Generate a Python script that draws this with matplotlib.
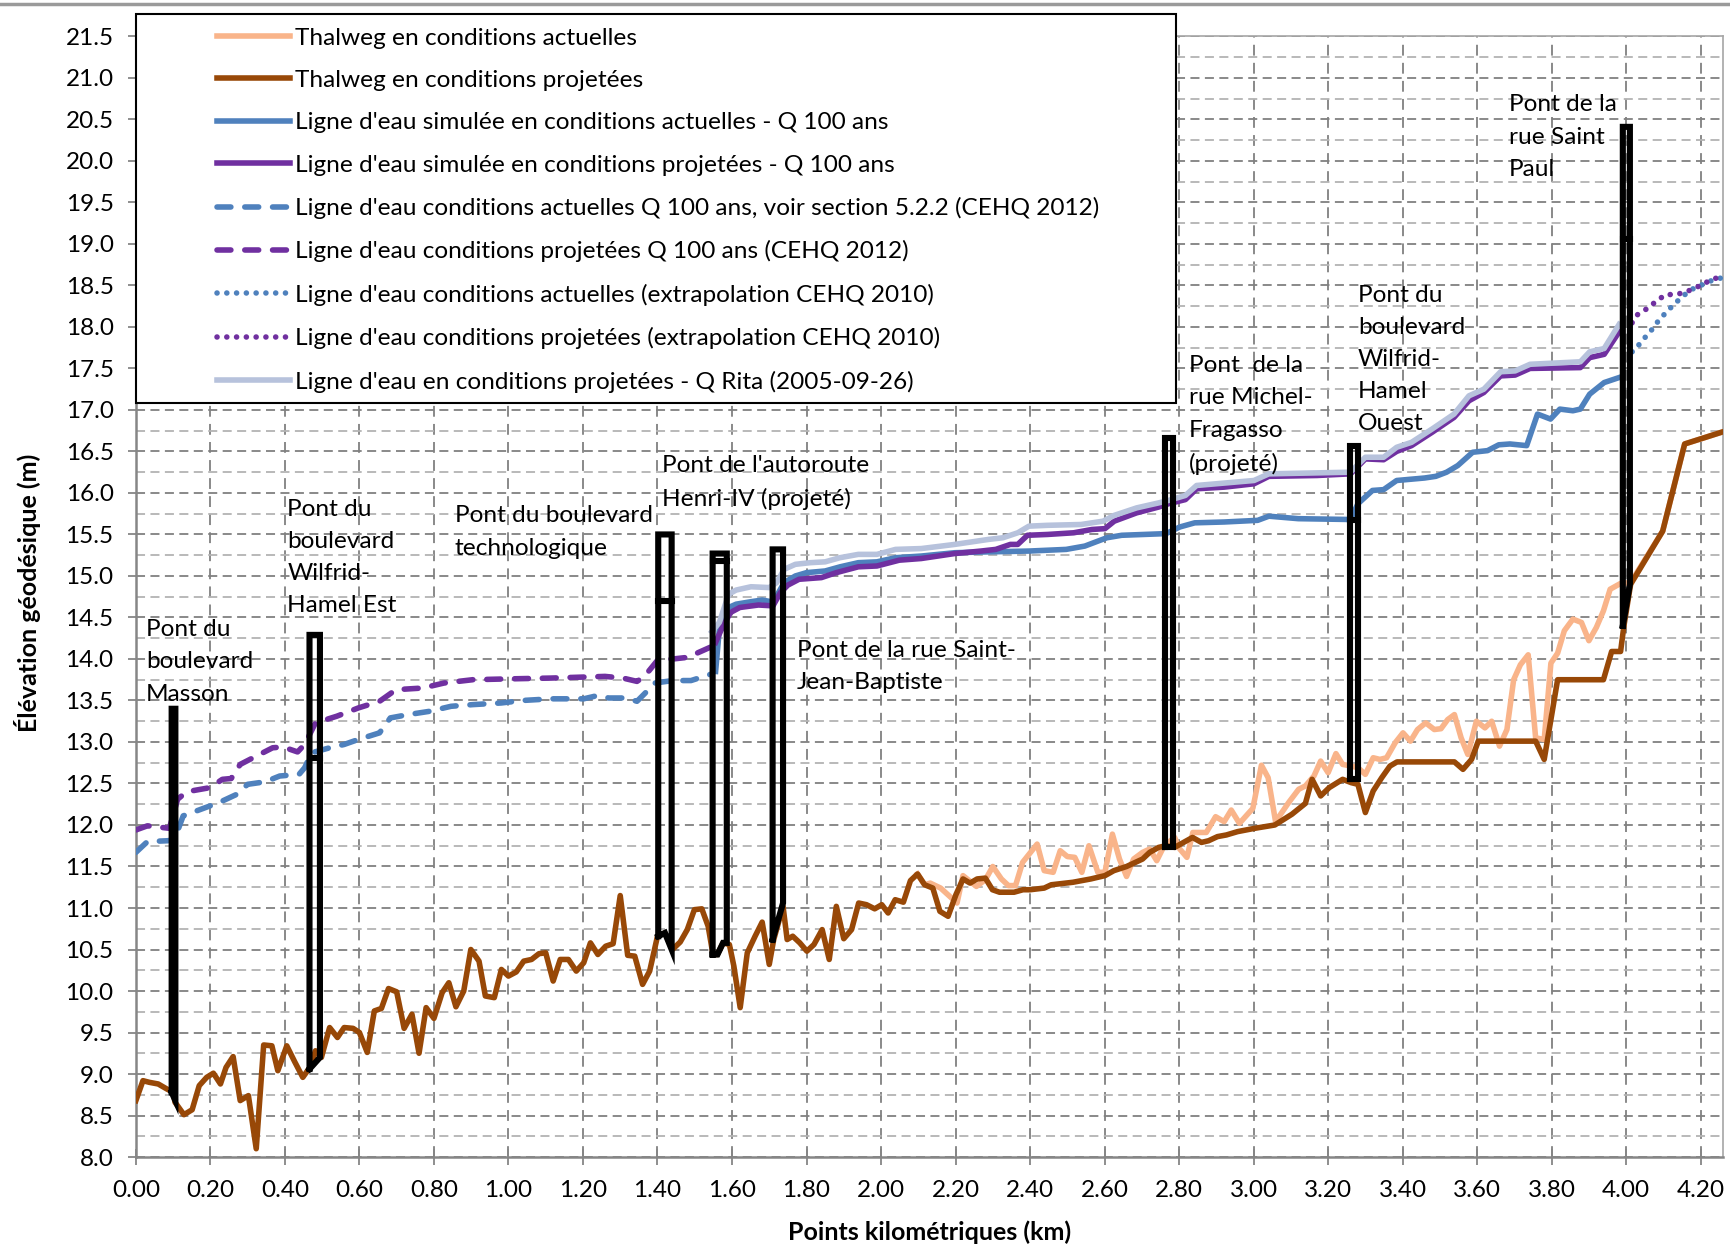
import matplotlib
matplotlib.use('Agg')
import matplotlib.pyplot as plt
from matplotlib.ticker import MultipleLocator, FormatStrFormatter
from matplotlib.lines import Line2D
from matplotlib.patches import Rectangle

plt.rcParams['font.family'] = ['Lato', 'DejaVu Sans']

# --- données (km, m) ---
thalweg_proj_km = [0.000, 0.019, 0.036, 0.060, 0.083, 0.100, 0.105, 0.129, 0.151, 0.170, 0.190, 0.208,
                   0.227, 0.242, 0.261, 0.280, 0.302, 0.323, 0.343, 0.365, 0.381, 0.405, 0.426, 0.448,
                   0.467, 0.482, 0.498, 0.520, 0.541, 0.559, 0.583, 0.600, 0.621, 0.640, 0.659, 0.678,
                   0.700, 0.720, 0.741, 0.760, 0.779, 0.800, 0.822, 0.840, 0.859, 0.880, 0.899, 0.921,
                   0.938, 0.962, 0.981, 1.000, 1.021, 1.041, 1.062, 1.082, 1.100, 1.120, 1.139, 1.161,
                   1.182, 1.202, 1.220, 1.240, 1.261, 1.281, 1.300, 1.320, 1.339, 1.360, 1.379, 1.400,
                   1.420, 1.440, 1.461, 1.480, 1.499, 1.519, 1.536, 1.549, 1.561, 1.576, 1.593, 1.605,
                   1.622, 1.641, 1.662, 1.681, 1.700, 1.712, 1.737, 1.748, 1.763, 1.782, 1.801, 1.820,
                   1.842, 1.861, 1.880, 1.900, 1.921, 1.940, 1.961, 1.983, 2.002, 2.019, 2.038, 2.060,
                   2.079, 2.098, 2.117, 2.139, 2.158, 2.180, 2.201, 2.220, 2.239, 2.258, 2.280, 2.299,
                   2.318, 2.357, 2.381, 2.400, 2.438, 2.457, 2.515, 2.563, 2.601, 2.625, 2.659, 2.678,
                   2.702, 2.721, 2.745, 2.764, 2.788, 2.812, 2.836, 2.860, 2.879, 2.903, 2.927, 2.957,
                   3.003, 3.057, 3.103, 3.139, 3.157, 3.180, 3.203, 3.239, 3.262, 3.280, 3.300, 3.321,
                   3.344, 3.366, 3.385, 3.539, 3.562, 3.585, 3.603, 3.757, 3.780, 3.798, 3.816, 3.939,
                   3.961, 3.985, 3.994, 4.012, 4.098, 4.157, 4.262]
thalweg_proj_z = [8.68, 8.92, 8.90, 8.88, 8.82, 8.78, 8.66, 8.51, 8.57, 8.86, 8.96, 9.01,
                  8.88, 9.08, 9.21, 8.68, 8.74, 8.10, 9.35, 9.34, 9.04, 9.34, 9.15, 8.96,
                  9.08, 9.28, 9.20, 9.56, 9.44, 9.56, 9.55, 9.50, 9.26, 9.76, 9.79, 10.03,
                  9.99, 9.55, 9.72, 9.25, 9.80, 9.67, 9.98, 10.10, 9.81, 10.00, 10.50, 10.36,
                  9.94, 9.92, 10.26, 10.18, 10.23, 10.36, 10.38, 10.45, 10.46, 10.12, 10.38, 10.38,
                  10.24, 10.34, 10.58, 10.44, 10.54, 10.57, 11.15, 10.43, 10.42, 10.08, 10.24, 10.66,
                  10.70, 10.50, 10.59, 10.74, 10.98, 10.99, 10.78, 10.44, 10.44, 10.58, 10.56, 10.30,
                  9.80, 10.46, 10.66, 10.83, 10.32, 10.62, 11.02, 10.62, 10.66, 10.58, 10.48, 10.56,
                  10.74, 10.38, 11.02, 10.63, 10.74, 11.06, 11.04, 10.99, 11.04, 10.94, 11.10, 11.07,
                  11.33, 11.41, 11.28, 11.24, 10.96, 10.90, 11.16, 11.35, 11.30, 11.35, 11.36, 11.22,
                  11.19, 11.19, 11.22, 11.22, 11.24, 11.28, 11.31, 11.35, 11.39, 11.45, 11.50, 11.54,
                  11.59, 11.67, 11.73, 11.75, 11.73, 11.79, 11.85, 11.79, 11.81, 11.86, 11.88, 11.92,
                  11.96, 12.00, 12.13, 12.26, 12.55, 12.35, 12.45, 12.55, 12.51, 12.49, 12.15, 12.41,
                  12.57, 12.71, 12.76, 12.76, 12.67, 12.79, 13.01, 13.01, 12.79, 13.27, 13.75, 13.75,
                  14.09, 14.09, 14.40, 14.90, 15.54, 16.59, 16.74]

thalweg_act_km = [2.098, 2.117, 2.132, 2.160, 2.204, 2.220, 2.256, 2.280, 2.300, 2.323, 2.342, 2.361,
                  2.380, 2.419, 2.438, 2.462, 2.481, 2.500, 2.520, 2.539, 2.558, 2.582, 2.601, 2.621,
                  2.640, 2.659, 2.678, 2.702, 2.721, 2.740, 2.760, 2.788, 2.802, 2.821, 2.837, 2.873,
                  2.898, 2.921, 2.940, 2.962, 2.998, 3.021, 3.039, 3.059, 3.094, 3.121, 3.139, 3.162,
                  3.180, 3.200, 3.221, 3.239, 3.262, 3.280, 3.300, 3.321, 3.339, 3.357, 3.380, 3.401,
                  3.421, 3.440, 3.462, 3.485, 3.503, 3.521, 3.539, 3.557, 3.575, 3.598, 3.621, 3.639,
                  3.660, 3.680, 3.698, 3.716, 3.737, 3.757, 3.780, 3.798, 3.816, 3.834, 3.857, 3.880,
                  3.900, 3.920, 3.939, 3.957, 3.985, 4.012, 4.098, 4.157, 4.262]
thalweg_act_z = [11.41, 11.28, 11.30, 11.24, 11.06, 11.39, 11.26, 11.34, 11.50, 11.35, 11.27, 11.27,
                 11.55, 11.77, 11.45, 11.43, 11.69, 11.62, 11.61, 11.43, 11.75, 11.43, 11.43, 11.89,
                 11.59, 11.38, 11.59, 11.67, 11.71, 11.57, 11.75, 11.85, 11.71, 11.61, 11.91, 11.91,
                 12.10, 12.04, 12.18, 12.02, 12.20, 12.72, 12.57, 12.04, 12.27, 12.43, 12.47, 12.59,
                 12.77, 12.63, 12.86, 12.73, 12.71, 12.69, 12.61, 12.81, 12.79, 12.81, 12.99, 13.11,
                 13.01, 13.15, 13.23, 13.15, 13.16, 13.27, 13.33, 13.05, 12.85, 13.25, 13.17, 13.25,
                 12.95, 13.15, 13.75, 13.93, 14.05, 13.05, 13.03, 13.95, 14.07, 14.34, 14.48, 14.44,
                 14.22, 14.38, 14.58, 14.84, 14.91, 14.92, 15.54, 16.59, 16.74]

# ligne d'eau simulée Q 100 ans
eau_act_km = [1.556, 1.566, 1.591, 1.611, 1.651, 1.681, 1.705, 1.720, 1.740, 1.770, 1.800, 1.850,
              1.890, 1.939, 1.989, 2.039, 2.108, 2.198, 2.288, 2.397, 2.497, 2.547, 2.606, 2.646,
              2.765, 2.802, 2.842, 2.921, 3.011, 3.041, 3.120, 3.260, 3.280, 3.319, 3.349, 3.384,
              3.459, 3.489, 3.518, 3.548, 3.588, 3.628, 3.658, 3.688, 3.733, 3.762, 3.797, 3.822,
              3.857, 3.877, 3.902, 3.941, 3.981]
eau_act_z = [13.85, 14.36, 14.62, 14.66, 14.69, 14.71, 14.69, 14.76, 14.92, 15.00, 15.04, 15.06,
             15.11, 15.16, 15.17, 15.22, 15.24, 15.28, 15.29, 15.30, 15.32, 15.36, 15.46, 15.49,
             15.51, 15.59, 15.64, 15.65, 15.67, 15.72, 15.69, 15.68, 15.87, 16.03, 16.04, 16.15,
             16.18, 16.20, 16.25, 16.33, 16.49, 16.51, 16.58, 16.59, 16.57, 16.95, 16.89, 17.01,
             16.99, 17.01, 17.19, 17.33, 17.39]

eau_proj_km = [1.556, 1.576, 1.596, 1.621, 1.671, 1.710, 1.730, 1.750, 1.780, 1.840, 1.880, 1.939,
               1.989, 2.049, 2.108, 2.198, 2.268, 2.308, 2.347, 2.367, 2.393, 2.447, 2.517, 2.566,
               2.601, 2.626, 2.686, 2.745, 2.772, 2.817, 2.847, 2.921, 3.001, 3.041, 3.170, 3.260,
               3.300, 3.349, 3.384, 3.424, 3.479, 3.538, 3.578, 3.618, 3.663, 3.702, 3.742, 3.877,
               3.902, 3.941, 3.981]
eau_proj_z = [14.20, 14.40, 14.56, 14.62, 14.65, 14.64, 14.80, 14.89, 14.96, 14.98, 15.04, 15.11,
              15.12, 15.19, 15.21, 15.27, 15.30, 15.32, 15.38, 15.38, 15.49, 15.50, 15.52, 15.56,
              15.57, 15.66, 15.76, 15.83, 15.87, 15.92, 16.05, 16.07, 16.11, 16.20, 16.21, 16.23,
              16.41, 16.40, 16.50, 16.57, 16.73, 16.91, 17.11, 17.21, 17.41, 17.42, 17.50, 17.51,
              17.63, 17.67, 17.94]

# CEHQ 2012
cehq_act_km = [0.000, 0.031, 0.084, 0.103, 0.127, 0.175, 0.223, 0.271, 0.300, 0.347, 0.386, 0.438,
               0.453, 0.472, 0.520, 0.559, 0.597, 0.654, 0.683, 0.731, 0.789, 0.846, 0.904, 0.981,
               1.038, 1.115, 1.202, 1.240, 1.269, 1.317, 1.345, 1.365, 1.393, 1.441, 1.490, 1.546]
cehq_act_z = [11.67, 11.80, 11.81, 11.82, 12.11, 12.19, 12.27, 12.37, 12.49, 12.52, 12.59, 12.61,
              12.69, 12.87, 12.93, 12.97, 13.03, 13.11, 13.29, 13.33, 13.37, 13.43, 13.45, 13.47,
              13.50, 13.52, 13.52, 13.56, 13.53, 13.53, 13.49, 13.58, 13.71, 13.74, 13.74, 13.82]

cehq_proj_km = [0.000, 0.031, 0.090, 0.112, 0.136, 0.199, 0.232, 0.256, 0.280, 0.319, 0.367, 0.395,
                0.434, 0.453, 0.482, 0.539, 0.597, 0.654, 0.698, 0.770, 0.827, 0.904, 1.000, 1.115,
                1.259, 1.307, 1.345, 1.365, 1.403, 1.442, 1.482, 1.511, 1.556]
cehq_proj_z = [11.94, 11.99, 11.96, 12.31, 12.40, 12.45, 12.55, 12.56, 12.73, 12.82, 12.93, 12.94,
               12.88, 12.97, 13.23, 13.31, 13.41, 13.49, 13.63, 13.65, 13.71, 13.75, 13.76, 13.77,
               13.79, 13.77, 13.73, 13.79, 14.00, 14.00, 14.02, 14.08, 14.17]

# extrapolation CEHQ 2010
extra_act_km = [4.016, 4.026, 4.046, 4.066, 4.086, 4.106, 4.128, 4.152, 4.175, 4.200, 4.230, 4.255]
extra_act_z = [17.70, 17.74, 17.85, 17.95, 18.07, 18.17, 18.27, 18.37, 18.45, 18.50, 18.56, 18.59]
extra_proj_km = [4.016, 4.031, 4.056, 4.081, 4.106, 4.135, 4.165, 4.195, 4.225, 4.255]
extra_proj_z = [18.05, 18.15, 18.22, 18.31, 18.39, 18.39, 18.43, 18.49, 18.56, 18.61]

# Q Rita (2005-09-26)
rita_km = [1.546, 1.566, 1.591, 1.611, 1.651, 1.700, 1.720, 1.740, 1.770, 1.810, 1.850, 1.890,
           1.939, 1.989, 2.039, 2.108, 2.198, 2.288, 2.327, 2.367, 2.397, 2.447, 2.537, 2.596,
           2.626, 2.686, 2.745, 2.772, 2.817, 2.847, 3.001, 3.041, 3.260, 3.300, 3.349, 3.384,
           3.424, 3.479, 3.538, 3.578, 3.618, 3.663, 3.702, 3.742, 3.877, 3.902, 3.941, 3.981]
rita_z = [14.33, 14.44, 14.78, 14.83, 14.87, 14.86, 14.92, 15.08, 15.14, 15.16, 15.17, 15.22,
          15.26, 15.26, 15.32, 15.33, 15.38, 15.44, 15.46, 15.52, 15.60, 15.61, 15.62, 15.66,
          15.73, 15.82, 15.88, 15.91, 15.97, 16.09, 16.15, 16.23, 16.25, 16.43, 16.43, 16.55,
          16.61, 16.77, 16.95, 17.17, 17.25, 17.46, 17.47, 17.55, 17.58, 17.70, 17.74, 18.03]

# ponts : contour (km, m) et niveau du tablier
pont_noms = ["Pont du\nboulevard\nMasson",
             "Pont du\nboulevard\nWilfrid-\nHamel Est",
             "Pont du boulevard\ntechnologique",
             "Pont de l'autoroute\nHenri-IV (projeté)",
             "Pont de la rue Saint-\nJean-Baptiste",
             "Pont  de la\nrue Michel-\nFragasso\n(projeté)",
             "Pont du\nboulevard\nWilfrid-\nHamel\nOuest",
             "Pont de la\nrue Saint\nPaul"]
pont_texte_km = [0.027, 0.406, 0.856, 1.413, 1.775, 2.827, 3.280, 3.686]
pont_texte_z = [14.48, 15.93, 15.85, 16.46, 14.23, 17.66, 18.51, 20.80]
pont_km = [[0.096, 0.096, 0.106, 0.106, 0.096],
           [0.466, 0.466, 0.494, 0.494, 0.466],
           [1.402, 1.402, 1.438, 1.438, 1.420, 1.402],
           [1.548, 1.548, 1.586, 1.586, 1.576, 1.561, 1.548],
           [1.709, 1.709, 1.737, 1.737, 1.709],
           [2.763, 2.763, 2.785, 2.785, 2.763],
           [3.260, 3.260, 3.280, 3.280, 3.260],
           [3.991, 3.991, 4.010, 4.010, 3.991]]
pont_z = [[8.78, 13.40, 13.40, 8.68, 8.78],
          [9.06, 14.29, 14.29, 9.20, 9.06],
          [10.66, 15.50, 15.50, 10.50, 10.70, 10.66],
          [10.44, 15.27, 15.27, 10.58, 10.58, 10.44, 10.44],
          [10.62, 15.32, 15.32, 11.06, 10.62],
          [11.73, 16.66, 16.66, 11.73, 11.73],
          [12.55, 16.56, 16.56, 12.55, 12.55],
          [14.40, 20.41, 20.41, 14.90, 14.40]]
pont_tablier = [None, 12.81, 14.70, 15.18, None, None, 15.67, 19.06]

labels = ["Thalweg en conditions actuelles",
          "Thalweg en conditions projetées",
          "Ligne d'eau simulée en conditions actuelles - Q 100 ans",
          "Ligne d'eau simulée en conditions projetées - Q 100 ans",
          "Ligne d'eau conditions actuelles Q 100 ans, voir section 5.2.2 (CEHQ 2012)",
          "Ligne d'eau conditions projetées Q 100 ans (CEHQ 2012)",
          "Ligne d'eau conditions actuelles (extrapolation CEHQ 2010)",
          "Ligne d'eau conditions projetées (extrapolation CEHQ 2010)",
          "Ligne d'eau en conditions projetées - Q Rita (2005-09-26)"]

c_thal_act = '#F9B48A'
c_thal_proj = '#984807'
c_bleu = '#4F81BD'
c_violet = '#7030A0'
c_rita = '#B7C2DC'
lw = 4.0
tirets = (0, (2.5, 2.5))
points = (0, (0.01, 1.75))
fs = 17.6

fig = plt.figure(figsize=(17.31, 12.46), dpi=100)
ax = fig.add_axes([0.0785, 0.0714, 0.9169, 0.8994])

h1, = ax.plot(thalweg_act_km, thalweg_act_z, color=c_thal_act, lw=lw, zorder=3)
h2, = ax.plot(thalweg_proj_km, thalweg_proj_z, color=c_thal_proj, lw=lw, zorder=4)
h5, = ax.plot(cehq_act_km, cehq_act_z, color=c_bleu, lw=lw, ls=tirets, dash_capstyle='round', zorder=3)
h6, = ax.plot(cehq_proj_km, cehq_proj_z, color=c_violet, lw=lw, ls=tirets, dash_capstyle='round', zorder=3)
h7, = ax.plot(extra_act_km, extra_act_z, color=c_bleu, lw=lw, ls=points, dash_capstyle='round', zorder=3)
h8, = ax.plot(extra_proj_km, extra_proj_z, color=c_violet, lw=lw, ls=points, dash_capstyle='round', zorder=3)
h3, = ax.plot(eau_act_km, eau_act_z, color=c_bleu, lw=lw, zorder=4)
h4, = ax.plot(eau_proj_km, eau_proj_z, color=c_violet, lw=lw, zorder=4)
h9, = ax.plot(rita_km, rita_z, color=c_rita, lw=lw, zorder=5)

for i in range(len(pont_km)):
    ax.plot(pont_km[i], pont_z[i], color='black', lw=4.4, solid_joinstyle='miter', zorder=6)
    if pont_tablier[i] is not None:
        ax.plot([pont_km[i][0], pont_km[i][2]], [pont_tablier[i]] * 2, color='black', lw=4.4, zorder=6)
    ax.text(pont_texte_km[i], pont_texte_z[i], pont_noms[i], fontsize=fs, ha='left', va='top',
            linespacing=1.66, zorder=7)

ax.set_xlim(0, 4.26)
ax.set_ylim(8.0, 21.5)
ax.xaxis.set_major_locator(MultipleLocator(0.2))
ax.xaxis.set_major_formatter(FormatStrFormatter('%.2f'))
ax.yaxis.set_major_locator(MultipleLocator(0.5))
ax.yaxis.set_minor_locator(MultipleLocator(0.25))
ax.yaxis.set_major_formatter(FormatStrFormatter('%.1f'))
ax.set_axisbelow(True)
ax.grid(which='major', axis='y', color='#808080', ls=(0, (5, 3)), lw=1.3)
ax.grid(which='minor', axis='y', color='#b3b3b3', ls=(0, (5, 3)), lw=1.3)
ax.grid(which='major', axis='x', color='#808080', ls=(0, (6, 4)), lw=1.3)
ax.tick_params(axis='y', which='major', direction='out', length=6, width=1.3, color='#868686',
               labelsize=17.5, pad=10)
ax.tick_params(axis='y', which='minor', length=0)
ax.tick_params(axis='x', direction='inout', length=11, width=1.3, color='#868686',
               labelsize=17.5, pad=11)
for s in ['top', 'right']:
    ax.spines[s].set_color('#a6a6a6')
    ax.spines[s].set_linewidth(1.2)
for s in ['left', 'bottom']:
    ax.spines[s].set_color('#868686')
    ax.spines[s].set_linewidth(1.8)

fig.text(0.016, 0.524, 'Élévation géodésique (m)', rotation=90, ha='center', va='center',
         fontsize=18, fontweight='bold')
fig.text(0.537, 0.0112, 'Points kilométriques (km)', ha='center', va='center',
         fontsize=18, fontweight='bold')

# bordure du graphique
fig.add_artist(Line2D([0, 1], [1 - 4 / 1246] * 2, color='#9a9a9a', lw=2.5))

# cadre de la légende
fig.add_artist(Rectangle((135.8 / 1731, 1 - 403 / 1246), (1176 - 135.8) / 1731, (403 - 14.4) / 1246,
                         transform=fig.transFigure, fc='white', ec='black', lw=1.5, zorder=5))
leg = fig.legend([h1, h2, h3, h4, h5, h6, h7, h8, h9], labels, loc='upper left',
                 bbox_to_anchor=(217.5 / 1731, 1 - 27.5 / 1246), bbox_transform=fig.transFigure,
                 frameon=False, fontsize=fs, handlelength=2.95, handletextpad=0.22,
                 labelspacing=0.87, borderpad=0, borderaxespad=0)
leg.set_zorder(6)

fig.savefig('out.png', dpi=100)
